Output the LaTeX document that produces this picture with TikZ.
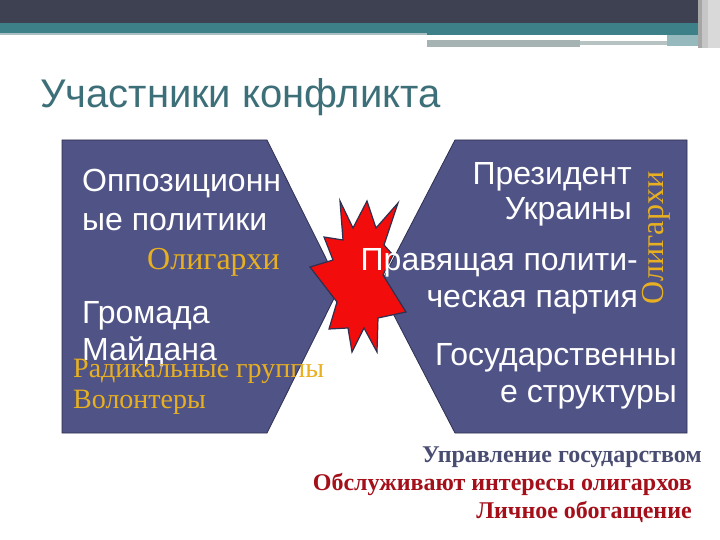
\documentclass[tikz,border=0pt]{standalone}
\usepackage{fontspec}
\setmainfont{Liberation Serif}
\newfontfamily\arialf{Liberation Sans}
\definecolor{hdark}{HTML}{3E4151}
\definecolor{hteal}{HTML}{3E8088}
\definecolor{hlight}{HTML}{A9BFC2}
\definecolor{hgray}{HTML}{A5B3B3}
\definecolor{titlec}{HTML}{3D6F79}
\definecolor{polyc}{HTML}{505386}
\definecolor{polyb}{HTML}{2E3050}
\definecolor{goldc}{HTML}{E8B020}
\definecolor{slatec}{HTML}{4A4D72}
\definecolor{redc}{HTML}{A50F1A}
\definecolor{starc}{HTML}{F20C0C}
\tikzset{
  poly/.style={fill=polyc, draw=polyb, line width=0.8pt},
  wt/.style={font=\arialf\fontsize{32}{38}\selectfont, text=white, inner sep=0},
  gold/.style={font=\fontsize{32}{38}\selectfont, text=goldc, inner sep=0},
  goldsm/.style={font=\fontsize{28}{33}\selectfont, text=goldc, inner sep=0},
  bot/.style={font=\bfseries\fontsize{24}{28}\selectfont, inner sep=0},
}
\begin{document}
\begin{tikzpicture}[x=1pt,y=-1pt]
\useasboundingbox (0,0) rectangle (720,540);
\fill[white] (0,0) rectangle (720,540);
% header
\fill[hdark] (0,0) rectangle (698,23);
\fill[hteal] (0,23) rectangle (698,33);
\fill[hteal] (427,33) rectangle (698,35.5);
\fill[hlight] (0,33) rectangle (427,35.5);
\fill[hgray] (427,40) rectangle (580,47);
\fill[hgray!80] (580,41) rectangle (667,45);
\fill[hteal!55] (667,35.5) rectangle (698,46);
\fill[gray!70] (698,0) rectangle (702,48);
\fill[gray!45] (702,0) rectangle (708,48);
\fill[gray!30] (708,0) rectangle (720,48);
% title
\node[font=\arialf\fontsize{40}{46}\selectfont, text=titlec, inner sep=0, anchor=base west] (title) at (40,108) {Участники конфликта};
% polygons
\draw[poly] (62,140) -- (267,140) -- (340,286.5) -- (267,433) -- (62,433) -- cycle;
\draw[poly] (455,140) -- (687,140) -- (687,433) -- (455,433) -- (379,286.5) -- cycle;
% star
\draw[fill=starc, draw=polyb, line width=1.2pt, line join=miter]
  (340,201) -- (353,228) -- (367,201) -- (376,228) -- (398,203) -- (384,245)
  -- (393,255) -- (383,275) -- (406,312) -- (378,318) -- (377,352) -- (364,328)
  -- (352,352) -- (348,328) -- (329,329) -- (337,302) -- (310,267) -- (333,260)
  -- (324,237) -- (343,240) -- cycle;
% left texts
\node[wt, anchor=base west] (l1) at (82,192) {Оппозиционн};
\node[wt, anchor=base west] (l2) at (82,230) {ые политики};
\node[gold, anchor=base west] (l3) at (147,269) {Олигархи};
\node[wt, anchor=base west] (l4) at (82,323) {Громада};
\node[wt, anchor=base west] (l5) at (82,360) {Майдана};
\node[goldsm, anchor=base west] (l6) at (73,377) {Радикальные группы};
\node[goldsm, anchor=base west] (l7) at (73,408) {Волонтеры};
% right texts
\node[wt, anchor=base east] (r1) at (632,185) {Президент};
\node[wt, anchor=base east] (r2) at (632,220) {Украины};
\node[wt, anchor=base east] (r3) at (638,270) {Правящая полити-};
\node[wt, anchor=base east] (r4) at (638,307) {ческая партия};
\node[wt, anchor=base east] (r5) at (677,365) {Государственны};
\node[wt, anchor=base east] (r6) at (677,402) {е структуры};
\node[gold, rotate=90, anchor=center] (r7) at (656,238) {Олигархи};
% bottom texts
\node[bot, text=slatec, anchor=base east] (b1) at (702,462) {Управление государством};
\node[bot, text=redc, anchor=base east] (b2) at (692,490) {Обслуживают интересы олигархов};
\node[bot, text=redc, anchor=base east] (b3) at (692,518) {Личное обогащение};
\end{tikzpicture}
\end{document}
